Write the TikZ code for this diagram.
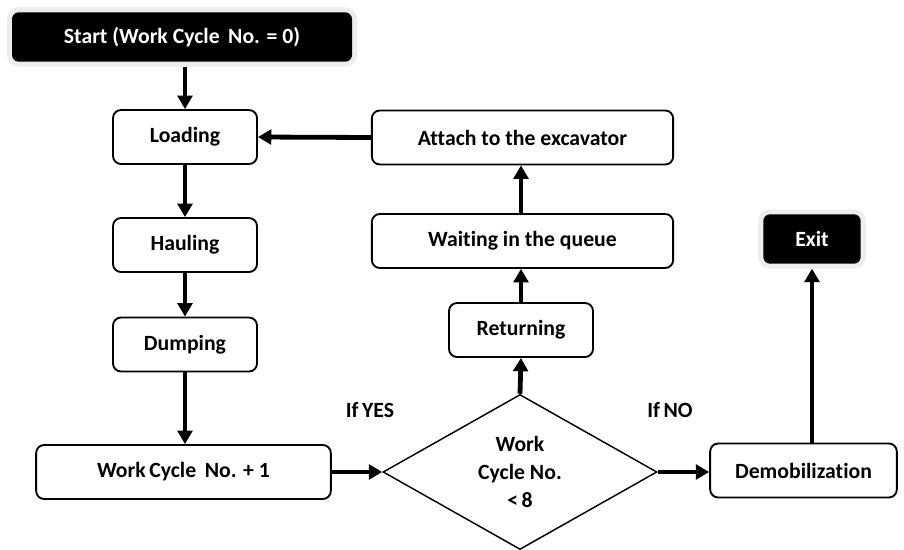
\documentclass[tikz,border=0pt]{standalone}
\usepackage{fontspec}
\setmainfont{Carlito}[Ligatures=NoCommon]
\usetikzlibrary{shapes.geometric,arrows.meta}

\tikzset{
  txt/.style={font=\bfseries\fontsize{16.3}{21}\selectfont},
  stepbox/.style={txt, draw=black, line width=1.4pt, rounded corners=6pt, fill=white,
    minimum height=40.5pt, inner sep=0pt},
  termbox/.style={txt, fill=black, text=white, rounded corners=5pt, minimum height=37pt,
    inner sep=0pt, outer sep=3.75pt,
    preaction={draw=black!7, line width=7.5pt, rounded corners=7pt}},
  decision/.style={txt, diamond, draw=black, line width=1.1pt, inner sep=0pt,
    minimum width=205.5pt, minimum height=115.5pt, align=center},
  flow/.style={line width=3.6pt, -{Triangle[width=11pt,length=10pt]}},
  tag/.style={txt}
}

\begin{document}
\begin{tikzpicture}[x=0.75pt, y=-0.75pt]
  \useasboundingbox (0,0) rectangle (904,550);

  % left column
  \node[termbox, minimum width=255pt] (start) at (182,37) {Start (Work Cycle\, No. = 0)};
  \node[stepbox, minimum width=108pt] (load) at (185,137) {Loading};
  \node[stepbox, minimum width=108pt] (haul) at (185,245) {Hauling};
  \node[stepbox, minimum width=108pt] (dump) at (185,344.5) {Dumping};
  \node[stepbox, minimum width=221pt] (inc) at (183.5,472) {Work\,Cycle\, No. + 1};

  % middle column
  \node[stepbox, minimum width=226pt] (attach) at (522.5,137.5) {Attach to the excavator};
  \node[stepbox, minimum width=226pt] (wait) at (522.5,241) {Waiting in the queue};
  \node[stepbox, minimum width=108pt] (ret) at (521,330) {Returning};
  \node[decision] (dec) at (520,472) {Work\\Cycle No.\\<\,8};

  % right column
  \node[stepbox, minimum width=140pt] (demob) at (803.5,470.5) {Demobilization};
  \node[termbox, minimum width=73pt] (exit) at (812,239) {Exit};

  % branch labels
  \node[tag] (yes) at (370,410) {If\,YES};
  \node[tag] (no) at (670,410) {If\,NO};

  % connectors
  \draw[flow] (load.north |- start.south) -- (load.north);
  \draw[flow] (load.south) -- (haul.north);
  \draw[flow] (haul.south) -- (dump.north);
  \draw[flow] (dump.south) -- (dump.south |- inc.north);
  \draw[flow] (inc.east) -- (dec.west);
  \draw[flow] (dec.east) -- (demob.west |- dec.east);
  \draw[flow] (dec.north) -- (ret.south);
  \draw[flow] (ret.north) -- (ret.north |- wait.south);
  \draw[flow] (ret.north |- wait.north) -- (ret.north |- attach.south);
  \draw[flow] (attach.west) -- (load.east);
  \draw[flow] (exit.south |- demob.north) -- (exit.south);
\end{tikzpicture}
\end{document}
